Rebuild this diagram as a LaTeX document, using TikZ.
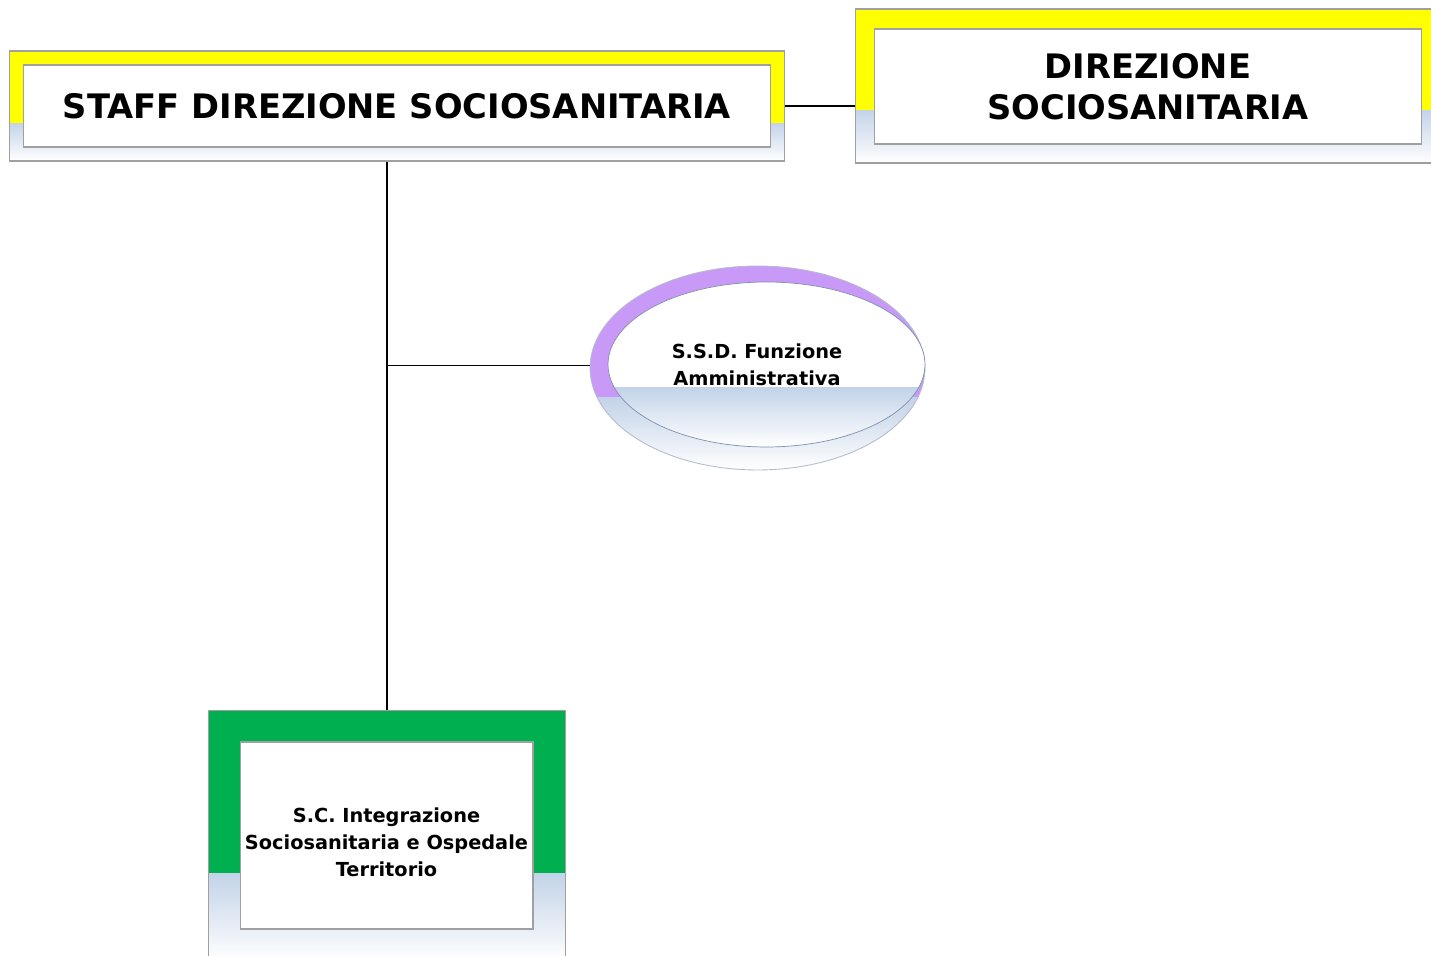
\documentclass[tikz,border=0pt]{standalone}
\usepackage{fontspec}
\setmainfont{DejaVu Sans}
\usetikzlibrary{calc,shapes.geometric}
\definecolor{giallo}{HTML}{FFFF00}
\definecolor{verde}{HTML}{00B050}
\definecolor{lilla}{HTML}{C999F8}
\definecolor{celeste}{HTML}{C3D3E8}
\definecolor{grigio}{HTML}{A0A0A0}
\definecolor{bordoblu}{HTML}{8090B0}
\tikzset{
  boxfill/.style 2 args={path picture={
      \fill[#1] (path picture bounding box.north west) rectangle ($(path picture bounding box.north east)!#2!(path picture bounding box.south east)$);
      \shade[top color=celeste, bottom color=white] ($(path picture bounding box.north west)!#2!(path picture bounding box.south west)$) rectangle (path picture bounding box.south east);}},
  outerbox/.style={draw=grigio, line width=0.6pt, inner sep=0pt},
  innerbox/.style={draw=grigio, line width=0.6pt, fill=white, inner sep=0pt, align=center, font=\bfseries},
  smalltext/.style={align=center, inner sep=0pt, font=\bfseries\fontsize{11}{15.3}\selectfont},
}
\begin{document}
\begin{tikzpicture}[x=0.02cm, y=-0.02cm]
\useasboundingbox (0,0) rectangle (1431,956);
\clip (0,0) rectangle (1431,956);
% boxes:
\node (staff) at (397,106) [outerbox, boxfill={giallo}{0.655}, minimum width=15.52cm, minimum height=2.2cm] {};
\node (staffin) at (397,106) [innerbox, minimum width=14.96cm, minimum height=1.64cm, font=\bfseries\fontsize{19.2}{23}\selectfont] {STAFF DIREZIONE SOCIOSANITARIA};
\node (dir) at (1147.5,86) [outerbox, boxfill={giallo}{0.656}, minimum width=11.7cm, minimum height=3.08cm] {};
\node (dirin) at (1148,86.5) [innerbox, minimum width=10.96cm, minimum height=2.3cm, font=\bfseries\fontsize{19.2}{23.2}\selectfont] {DIREZIONE\\SOCIOSANITARIA};
\node (sc) at (387,836) [outerbox, boxfill={verde}{0.647}, minimum width=7.16cm, minimum height=5.04cm] {};
\node (scin) at (386.5,835.5) [innerbox, minimum width=5.86cm, minimum height=3.74cm] {};
\node (sctxt) at (386.5,842) [smalltext] {S.C. Integrazione\\Sociosanitaria e Ospedale\\Territorio};
% ellipse:
\node (ssd) at (757.5,368) [ellipse, draw=bordoblu!60, line width=0.5pt, inner sep=0pt, boxfill={lilla}{0.647}, minimum width=6.7cm, minimum height=4.08cm] {};
\node (ssdin) at (766.5,364.5) [ellipse, draw=bordoblu, line width=0.4pt, inner sep=0pt, boxfill={white}{0.64}, minimum width=6.34cm, minimum height=3.3cm] {};
\node (ssdtxt) at (757,365) [smalltext] {S.S.D. Funzione\\Amministrativa};
% connectors:
\draw[line width=0.6pt] (staff.east) -- (staff.east -| dir.west);
\draw[line width=0.6pt] (sc.north) -- (sc.north |- staff.south);
\draw[line width=0.6pt] (ssd.179) -- (ssd.179 -| sc.north);
\end{tikzpicture}
\end{document}
